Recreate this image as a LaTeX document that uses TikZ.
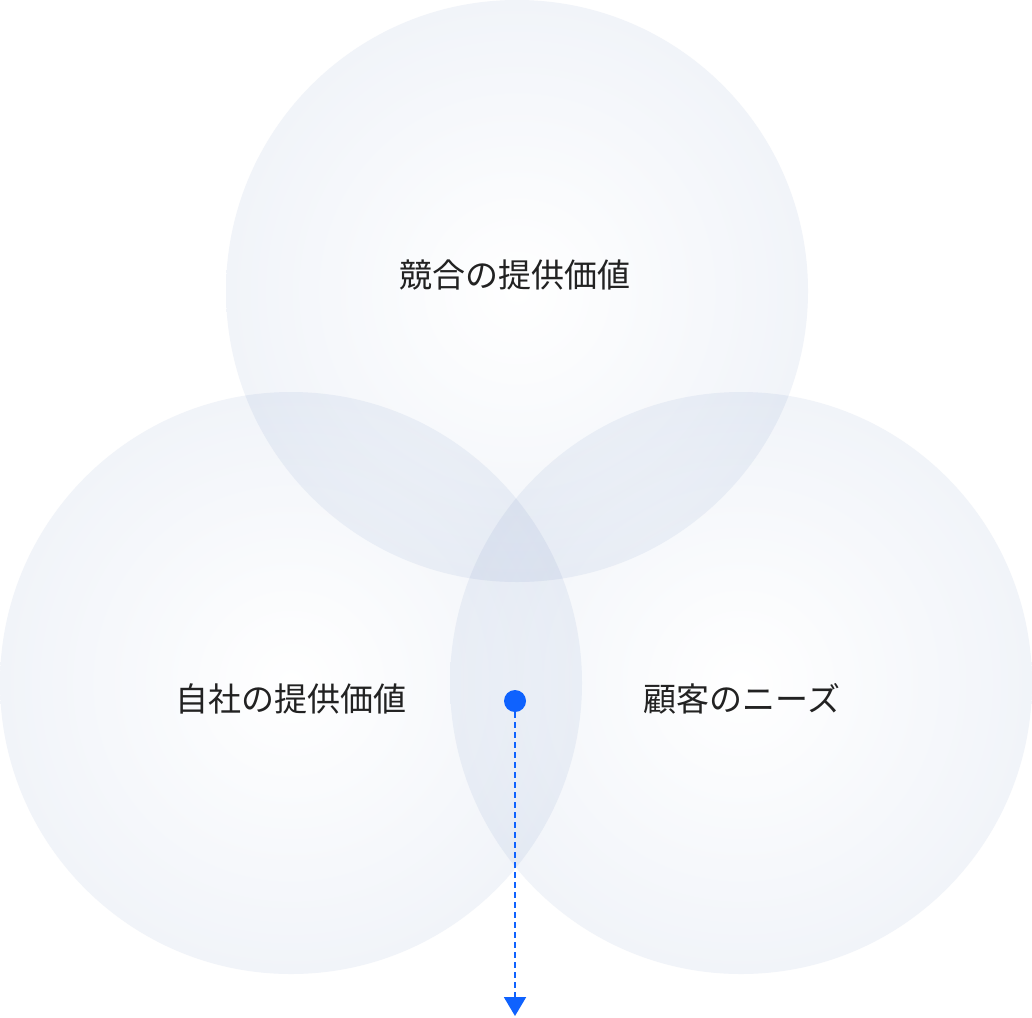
\documentclass[tikz,border=0pt]{standalone}
\usepackage{fontspec}
\newfontfamily\jpfont{Noto Sans CJK JP}
\usetikzlibrary{arrows.meta}
\definecolor{circleedge}{HTML}{F1F4F9}
\definecolor{markblue}{HTML}{0F62FE}
\definecolor{labeltext}{HTML}{222222}

\begin{document}
\begin{tikzpicture}[
				x=1pt, y=-1pt,
				venncircle/.style={circle, minimum size=582pt, inner sep=0pt, shading=radial, inner color=white, outer color=circleedge, blend mode=multiply},
				venntext/.style={font=\jpfont\fontsize{33}{33}\selectfont, text=labeltext},
				]
				\useasboundingbox (0,0) rectangle (1032,1017);
				\fill[white] (0,0) rectangle (1032,1017);
				%Circles
				\node[venncircle]      (rival) 	at 	(517,291)       {};
				\node[venncircle]      (self) 	at 	(291,683)       {};
				\node[venncircle]      (needs) 	at 	(741,683)       {};
				
				%Labels
				\node[venntext]      (rivaltext) 	at 	(515,275)       {競合の提供価値};
				\node[venntext]      (selftext) 	at 	(291,699)       {自社の提供価値};
				\node[venntext]      (needstext) 	at 	(742,699)       {顧客のニーズ};
				
				%Marker
				\node[circle, fill=markblue, minimum size=22pt, inner sep=0pt] (dot) at (515,701) {};
				\coordinate (down) at (515,1016);
				\draw[markblue, line width=2pt, dash pattern=on 6pt off 4pt, -{Triangle[width=22pt,length=19pt]}] (dot) -- (down);
			\end{tikzpicture}
\end{document}
